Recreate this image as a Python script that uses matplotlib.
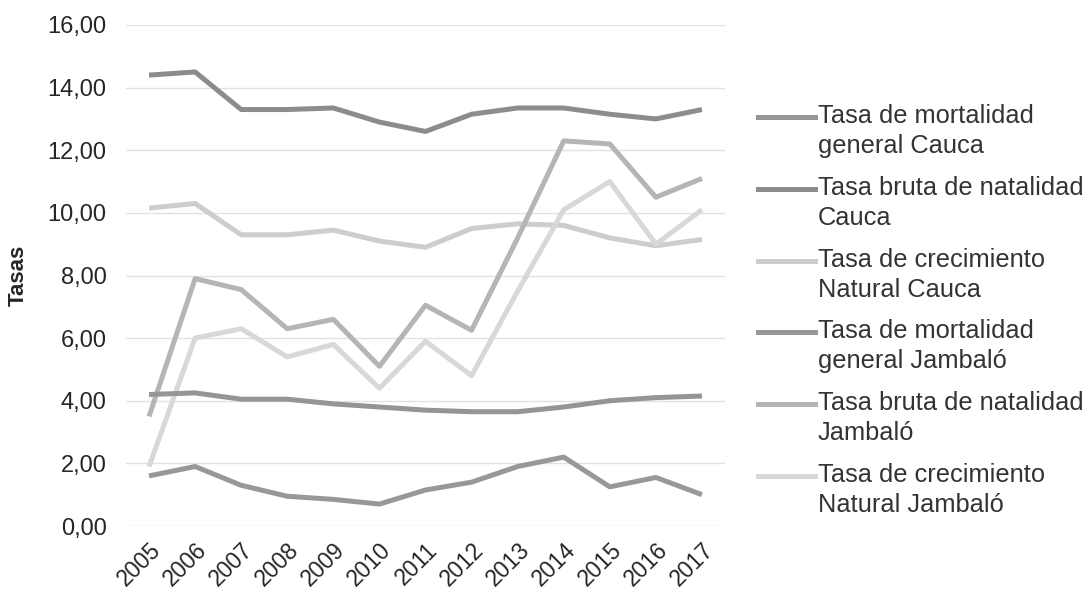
import matplotlib
matplotlib.use("Agg")
import matplotlib.pyplot as plt
from matplotlib.lines import Line2D
from matplotlib.ticker import FuncFormatter

years = ["2005", "2006", "2007", "2008", "2009", "2010", "2011", "2012",
         "2013", "2014", "2015", "2016", "2017"]

mort_cauca = [4.20, 4.25, 4.05, 4.05, 3.90, 3.80, 3.70, 3.65, 3.65, 3.80, 4.00, 4.10, 4.15]
nat_cauca = [14.40, 14.50, 13.30, 13.30, 13.35, 12.90, 12.60, 13.15, 13.35, 13.35, 13.15, 13.00, 13.30]
crec_cauca = [10.15, 10.30, 9.30, 9.30, 9.45, 9.10, 8.90, 9.50, 9.65, 9.60, 9.20, 8.95, 9.15]
mort_jambalo = [1.60, 1.90, 1.30, 0.95, 0.85, 0.70, 1.15, 1.40, 1.90, 2.20, 1.25, 1.55, 1.00]
nat_jambalo = [3.50, 7.90, 7.55, 6.30, 6.60, 5.10, 7.05, 6.25, 9.20, 12.30, 12.20, 10.50, 11.10]
crec_jambalo = [1.90, 6.00, 6.30, 5.40, 5.80, 4.40, 5.90, 4.80, 7.50, 10.10, 11.00, 9.00, 10.10]

series_labels = [
    ("Tasa de mortalidad", "general Cauca"),
    ("Tasa bruta de natalidad", "Cauca"),
    ("Tasa de crecimiento", "Natural Cauca"),
    ("Tasa de mortalidad", "general Jambaló"),
    ("Tasa bruta de natalidad", "Jambaló"),
    ("Tasa de crecimiento", "Natural Jambaló"),
]
series = [mort_cauca, nat_cauca, crec_cauca, mort_jambalo, nat_jambalo, crec_jambalo]
colors = ["#959595", "#8c8c8c", "#cdcdcd", "#989898", "#b5b5b5", "#d8d8d8"]
y_ticks = [0, 2, 4, 6, 8, 10, 12, 14, 16]

plt.rcParams["font.family"] = ["Liberation Sans", "DejaVu Sans"]

W, H = 1091.0, 596.0
fig = plt.figure(figsize=(W / 100, H / 100), dpi=100)
ax = fig.add_axes([126 / W, 1 - 526 / H, 599 / W, 501 / H])

x = list(range(len(years)))
draw_order = [2, 5, 4, 0, 3, 1]
for i in draw_order:
    ax.plot(x, series[i], color=colors[i], lw=3.6, solid_joinstyle="round",
            solid_capstyle="butt", zorder=3)

ax.set_xlim(-0.5, len(years) - 0.5)
ax.set_ylim(0, 16)
ax.set_yticks(y_ticks)
ax.yaxis.set_major_formatter(FuncFormatter(lambda v, p: f"{v:.2f}".replace(".", ",")))
ax.set_xticks(x)
ax.set_xticklabels(years, rotation=45, ha="right", va="top", rotation_mode="anchor")
ax.tick_params(axis="both", length=0, labelcolor="#262626")
ax.tick_params(axis="y", labelsize=17, pad=14)
ax.tick_params(axis="x", labelsize=16.5, pad=9)
ax.grid(axis="y", color="#e2e2e2", lw=1.0, zorder=0)
for s in ax.spines.values():
    s.set_visible(False)
ax.set_ylabel("Tasas", fontsize=16, fontweight="bold", color="#262626")
ax.yaxis.set_label_coords(-0.162, 0.5)

# legend at the right
first_y = 116
step = 71.8
for i, (l1, l2) in enumerate(series_labels):
    yy = first_y + i * step
    fig.add_artist(Line2D([758 / W, 815 / W], [1 - (yy + 1) / H, 1 - (yy + 1) / H],
                          color=colors[i], lw=3.6, transform=fig.transFigure))
    fig.text(818 / W, 1 - yy / H, l1, fontsize=18.3, color="#333333", va="center", ha="left")
    fig.text(818 / W, 1 - (yy + 30) / H, l2, fontsize=18.3, color="#333333", va="center", ha="left")

fig.savefig("out.png", dpi=100, facecolor="white")
